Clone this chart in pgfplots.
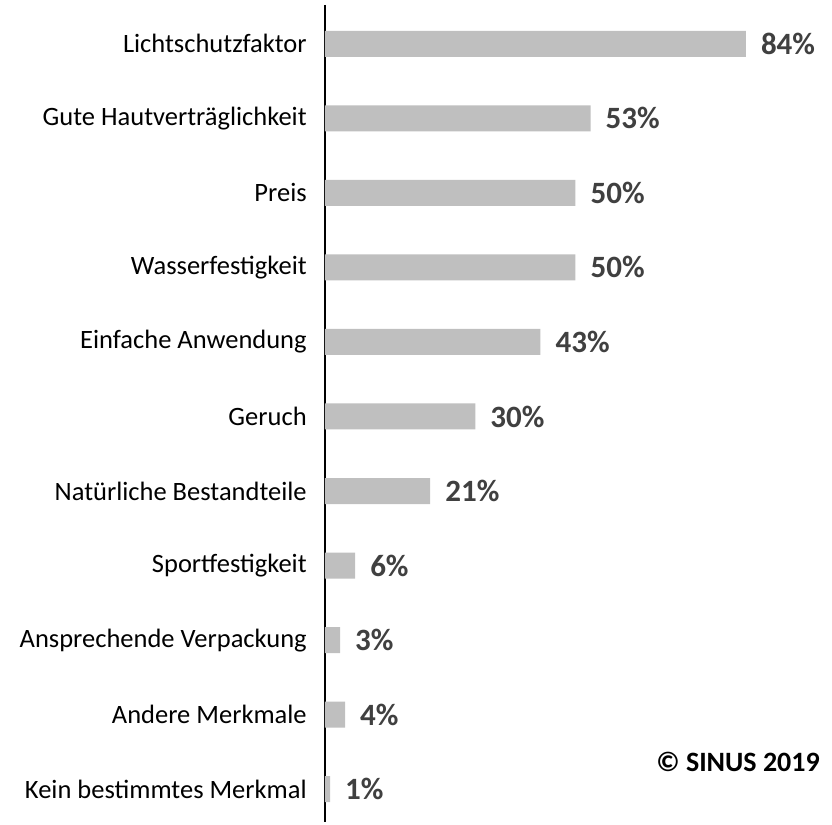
\documentclass[border=0pt]{standalone}
\usepackage{pgfplots}
\pgfplotsset{compat=1.18}
\usepackage{fontspec}
\setmainfont{Carlito}
\definecolor{barg}{HTML}{BFBFBF}
\definecolor{valg}{HTML}{404040}
\begin{document}
\begin{tikzpicture}
\begin{axis}[
  name=ax,
  scale only axis,
  width=507pt, height=817pt,
  xbar, bar width=26pt,
  xmin=0, xmax=101.2,
  ymin=-0.52, ymax=10.44,
  y dir=reverse,
  axis x line=none,
  axis y line=left,
  axis line style={-, line width=2pt, black},
  xtick=\empty,
  ytick={0,1,2,3,4,5,6,7,8,9,10},
  yticklabels={Lichtschutzfaktor, Gute Hautverträglichkeit, Preis, Wasserfestigkeit, Einfache Anwendung, Geruch, Natürliche Bestandteile, Sportfestigkeit, Ansprechende Verpackung, Andere Merkmale, Kein bestimmtes Merkmal},
  ytick style={draw=none},
  yticklabel style={font=\fontsize{26.5}{30}\selectfont, text=black, anchor=east, inner sep=0pt, xshift=-16pt},
  /pgf/number format/assume math mode=true,
  nodes near coords={\pgfmathprintnumber{\pgfplotspointmeta}\%},
  point meta=x,
  every node near coord/.append style={font=\fontsize{31}{36}\selectfont\bfseries, text=valg, anchor=west, inner sep=0pt, xshift=15pt},
  clip=false,
]
\addplot[fill=barg, draw=none] coordinates {
(84,0) (53,1) (50,2) (50,3) (43,4) (30,5) (21,6) (6,7) (3,8) (4,9) (1,10)
};
\node[anchor=east, inner sep=0pt, font=\fontsize{28}{32}\selectfont\bfseries, text=black] at (axis cs:98.8,9.63) {© SINUS 2019};
\end{axis}
\path (ax.north west) ++(-325pt,5pt);
\path (ax.south east) ++(0pt,-2pt);
\end{tikzpicture}
\end{document}
